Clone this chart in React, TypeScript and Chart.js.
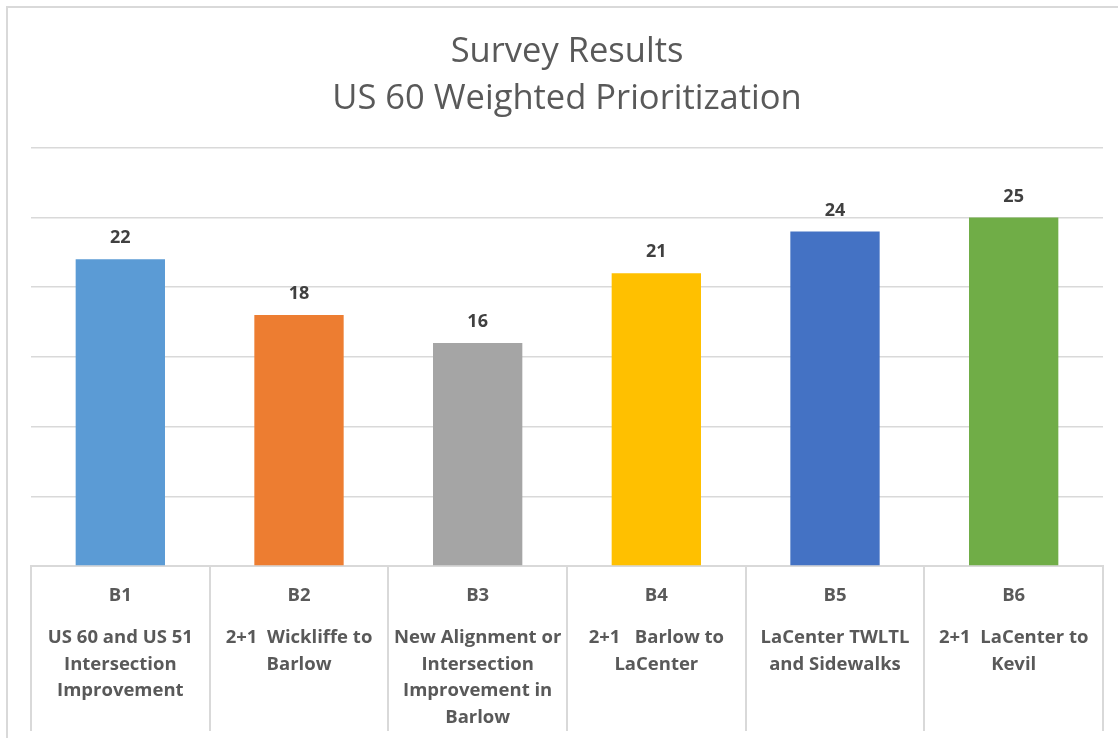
import React, { useEffect, useRef } from "react";
import { Chart, registerables } from "chart.js";

Chart.register(...registerables);

const codes = ["B1", "B2", "B3", "B4", "B5", "B6"];
const descriptions = [
  ["US 60 and US 51", "Intersection", "Improvement"],
  ["2+1  Wickliffe to", "Barlow"],
  ["New Alignment or", "Intersection", "Improvement in", "Barlow"],
  ["2+1   Barlow to", "LaCenter"],
  ["LaCenter TWLTL", "and Sidewalks"],
  ["2+1  LaCenter to", "Kevil"],
];
const values = [22, 18, 16, 21, 24, 25];
const barColors = ["#5B9BD5", "#ED7D31", "#A5A5A5", "#FFC000", "#4472C4", "#70AD47"];
const titleLines = ["Survey Results", "US 60 Weighted Prioritization"];

const FONT = "'Open Sans', Lato, sans-serif";

const framePlugin = {
  id: "frame",
  beforeDraw(chart: any) {
    const ctx = chart.ctx;
    ctx.save();
    ctx.fillStyle = "#ffffff";
    ctx.fillRect(0, 0, chart.width, chart.height);
    ctx.strokeStyle = "#d9d9d9";
    ctx.lineWidth = 2;
    ctx.strokeRect(7, 7, chart.width + 20, chart.height + 20);
    ctx.restore();
  },
};

const valueLabelPlugin = {
  id: "valueLabels",
  afterDatasetsDraw(chart: any) {
    const ctx = chart.ctx;
    const meta = chart.getDatasetMeta(0);
    ctx.save();
    ctx.font = `bold 18px ${FONT}`;
    ctx.fillStyle = "#404040";
    ctx.textAlign = "center";
    ctx.textBaseline = "middle";
    meta.data.forEach((bar: any, i: number) => {
      ctx.fillText(String(values[i]), bar.x, bar.y - 21);
    });
    ctx.restore();
  },
};

const categoryLabelPlugin = {
  id: "categoryLabels",
  afterDraw(chart: any) {
    const ctx = chart.ctx;
    const xs = chart.scales.x;
    const base = chart.chartArea.bottom;
    ctx.save();
    ctx.fillStyle = "#595959";
    ctx.textAlign = "center";
    ctx.textBaseline = "middle";
    codes.forEach((code, i) => {
      const x = xs.getPixelForValue(i);
      ctx.font = `bold 18.5px ${FONT}`;
      ctx.fillText(code, x, base + 30);
      descriptions[i].forEach((line, j) => {
        ctx.fillText(line, x, base + 72 + j * 26.5);
      });
    });
    ctx.restore();
  },
};

export default function App() {
  const ref = useRef<HTMLCanvasElement>(null);
  useEffect(() => {
    document.body.style.margin = "0";
    const chart = new Chart(ref.current!, {
      type: "bar",
      data: {
        labels: codes,
        datasets: [
          {
            data: values,
            backgroundColor: barColors,
            categoryPercentage: 1,
            barPercentage: 0.5,
          },
        ],
      },
      options: {
        animation: false,
        responsive: false,
        layout: { padding: { left: 31, right: 15, top: 0, bottom: 7 } },
        plugins: {
          legend: { display: false },
          tooltip: { enabled: false },
          title: {
            display: true,
            text: titleLines,
            color: "#595959",
            font: { family: FONT, size: 34.5, weight: "normal", lineHeight: 1.36 },
            padding: { top: 29, bottom: 25 },
          },
        },
        scales: {
          x: {
            offset: true,
            ticks: { display: false },
            grid: {
              display: true,
              offset: true,
              drawOnChartArea: false,
              drawTicks: true,
              tickLength: 165,
              color: "#d9d9d9",
              lineWidth: 2,
            },
            border: { display: true, color: "#d9d9d9", width: 2 },
          },
          y: {
            min: 0,
            max: 30,
            ticks: { display: false, stepSize: 5 },
            grid: { color: "#d9d9d9", lineWidth: 1.5, drawTicks: false },
            border: { display: false },
          },
        },
      },
      plugins: [framePlugin, valueLabelPlugin, categoryLabelPlugin],
    });
    return () => chart.destroy();
  }, []);
  return <canvas ref={ref} width={1118} height={738} style={{ display: "block" }} />;
}
